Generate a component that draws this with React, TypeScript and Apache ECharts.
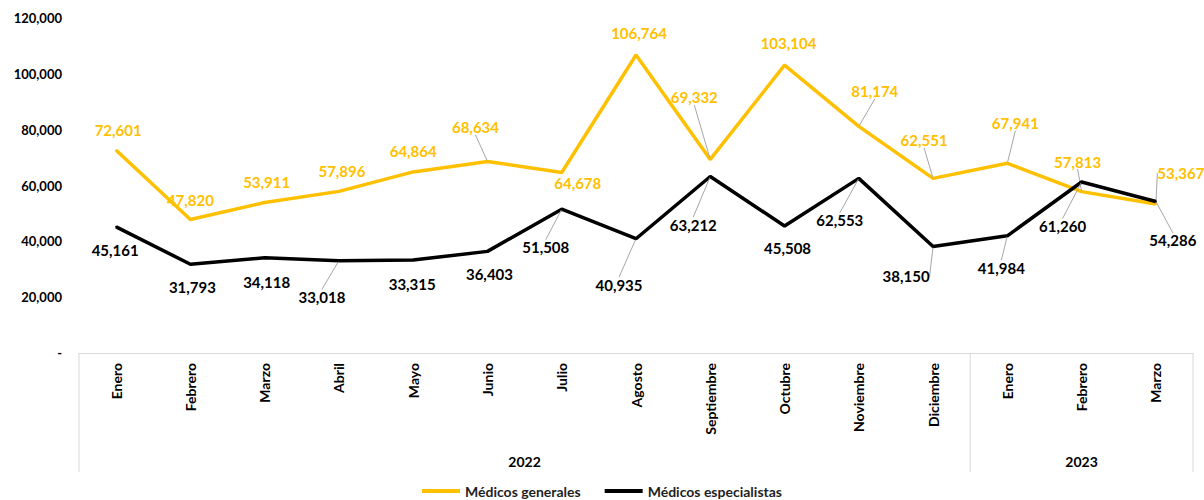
import React, { useEffect, useRef } from "react";
import * as echarts from "echarts";

const months = [
  "Enero", "Febrero", "Marzo", "Abril", "Mayo", "Junio", "Julio", "Agosto",
  "Septiembre", "Octubre", "Noviembre", "Diciembre", "Enero", "Febrero", "Marzo",
];
const years = ["2022", "2023"];
const monthsPerYear = [12, 3];

const generales = [
  72601, 47820, 53911, 57896, 64864, 68634, 64678, 106764, 69332, 103104,
  81174, 62551, 67941, 57813, 53367,
];
const especialistas = [
  45161, 31793, 34118, 33018, 33315, 36403, 51508, 40935, 63212, 45508,
  62553, 38150, 41984, 61260, 54286,
];

const yTicks = [0, 20000, 40000, 60000, 80000, 100000, 120000];

// label placement (presentation only)
const generalesLabelOffsets = [
  [2, -20], [0, -20], [2, -20], [3, -20], [0, -21], [-12, -34], [16, 11], [3, -22],
  [-16, -62], [4, -22], [16, -35], [-9, -38], [8, -40], [-4, -30], [25, -31],
];
const generalesLeader = [5, 8, 10, 11, 12, 13, 14];
const especialistasLabelOffsets = [
  [-1, 23], [2, 23], [2, 24], [-17, 36], [-1, 24], [2, 23], [-16, 38], [-17, 46],
  [-17, 48], [3, 22], [-19, 42], [-27, 30], [-6, 32], [-19, 44], [17, 39],
];
const especialistasLeader = [3, 6, 7, 8, 10, 11, 12, 13, 14];

const FONT = "Lato, 'Noto Sans', sans-serif";
const GOLD = "#FFC000";
const BLACK = "#000000";
const GRID_LINE = "#d9d9d9";

const fmt = (v: number) => (v === 0 ? "-" : v.toLocaleString("en-US"));

function buildSeries(
  name: string,
  values: number[],
  color: string,
  offsets: number[][],
  leaders: number[]
) {
  return {
    name,
    type: "line",
    data: values.map((v, i) => ({
      value: v,
      labelLine: { show: leaders.includes(i) },
    })),
    showSymbol: true,
    symbol: "circle",
    symbolSize: 2,
    itemStyle: { color },
    lineStyle: { color, width: 3.5 },
    emphasis: { disabled: true },
    label: {
      show: true,
      position: "inside",
      color,
      fontFamily: FONT,
      fontWeight: "bold",
      fontSize: 15,
      textBorderWidth: 0,
      formatter: (p: any) => fmt(p.value),
    },
    labelLine: {
      show: false,
      lineStyle: { color: "#a6a6a6", width: 1 },
    },
    labelLayout: (p: any) => ({
      dx: offsets[p.dataIndex][0],
      dy: offsets[p.dataIndex][1],
    }),
    z: color === BLACK ? 3 : 2,
  };
}

export default function App() {
  const ref = useRef<HTMLDivElement>(null);

  useEffect(() => {
    if (!ref.current) return;
    const chart = echarts.init(ref.current, null, { renderer: "svg" });
    const option: any = {
      animation: false,
      backgroundColor: "#ffffff",
      grid: { left: 79, right: 11, top: 18, bottom: 147, containLabel: false },
      legend: {
        top: 484,
        left: "center",
        padding: 0,
        icon: "rect",
        itemWidth: 38,
        itemHeight: 4,
        itemGap: 24,
        textStyle: {
          fontFamily: FONT,
          fontWeight: "bold",
          fontSize: 14,
          color: "#1f1f1f",
        },
        data: ["Médicos generales", "Médicos especialistas"],
      },
      xAxis: {
        type: "category",
        data: months,
        boundaryGap: true,
        axisLine: { show: true, lineStyle: { color: GRID_LINE, width: 1 } },
        axisTick: { show: false },
        axisLabel: {
          rotate: 90,
          margin: 10,
          interval: 0,
          fontFamily: FONT,
          fontWeight: "bold",
          fontSize: 14,
          color: "#000",
        },
        splitLine: { show: false },
      },
      yAxis: {
        type: "value",
        min: 0,
        max: 120000,
        interval: 20000,
        axisLine: { show: false },
        axisTick: { show: false },
        splitLine: { show: false },
        axisLabel: {
          margin: 17,
          fontFamily: FONT,
          fontWeight: "bold",
          fontSize: 13,
          color: "#000",
          formatter: (v: number) => (yTicks.includes(v) ? fmt(v) : ""),
        },
      },
      series: [
        buildSeries("Médicos generales", generales, GOLD, generalesLabelOffsets, generalesLeader),
        buildSeries(
          "Médicos especialistas",
          especialistas,
          BLACK,
          especialistasLabelOffsets,
          especialistasLeader
        ),
      ],
    };
    chart.setOption(option);

    // table-like year grouping below the category axis
    const px = (i: number) => chart.convertToPixel({ xAxisIndex: 0 }, i) as number;
    const bw = px(1) - px(0);
    const axisY = chart.convertToPixel({ yAxisIndex: 0 }, 0) as number;
    const tableH = 119;
    const graphics: any[] = [];
    let start = 0;
    const boundaries: number[] = [px(0) - bw / 2];
    years.forEach((y, k) => {
      const end = start + monthsPerYear[k];
      const xl = px(start) - bw / 2;
      const xr = px(end - 1) + bw / 2;
      boundaries.push(xr);
      graphics.push({
        type: "text",
        x: (xl + xr) / 2,
        y: axisY + 108,
        style: {
          text: y,
          fill: "#000",
          font: `bold 14px ${FONT}`,
          textAlign: "center",
          textVerticalAlign: "middle",
        },
        silent: true,
      });
      start = end;
    });
    boundaries.forEach((bx) => {
      graphics.push({
        type: "line",
        shape: { x1: bx, y1: axisY, x2: bx, y2: axisY + tableH },
        style: { stroke: GRID_LINE, lineWidth: 1 },
        silent: true,
      });
    });
    chart.setOption({ graphic: graphics });

    return () => chart.dispose();
  }, []);

  return (
    <div
      ref={ref}
      style={{ position: "fixed", left: 0, top: 0, width: 1204, height: 500 }}
    />
  );
}
